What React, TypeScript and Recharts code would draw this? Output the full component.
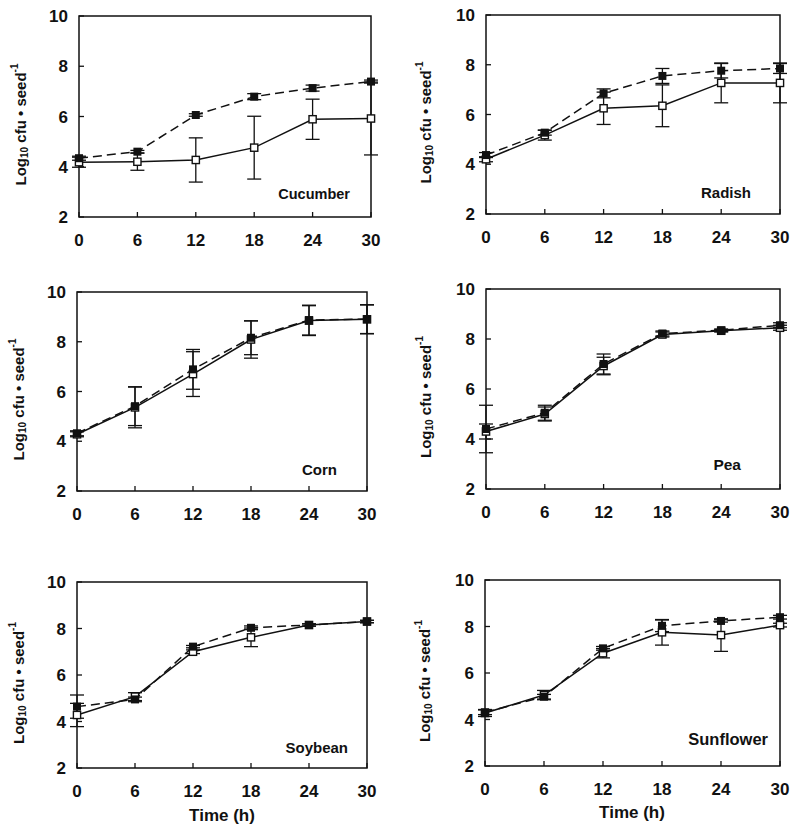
import React from "react";
import { LineChart, Line, XAxis, YAxis, ErrorBar, ReferenceArea } from "recharts";

const TIMES = [0, 6, 12, 18, 24, 30];
const X_TICKS = [0, 6, 12, 18, 24, 30];
const Y_TICKS = [2, 4, 6, 8, 10];

// filled squares = dashed line, open squares = solid line
const CUCUMBER_FILLED = [4.34, 4.6, 6.06, 6.79, 7.13, 7.39];
const CUCUMBER_FILLED_ERR = [0.08, 0.05, 0.05, 0.12, 0.12, 0.06];
const CUCUMBER_OPEN = [4.18, 4.2, 4.27, 4.76, 5.89, 5.92];
const CUCUMBER_OPEN_ERR = [0.2, 0.34, 0.88, 1.25, 0.8, 1.45];

const RADISH_FILLED = [4.37, 5.27, 6.85, 7.55, 7.76, 7.85];
const RADISH_FILLED_ERR = [0.1, 0.1, 0.18, 0.3, 0.29, 0.2];
const RADISH_OPEN = [4.2, 5.17, 6.25, 6.35, 7.27, 7.27];
const RADISH_OPEN_ERR = [0.1, 0.2, 0.65, 0.84, 0.8, 0.8];

const CORN_FILLED = [4.32, 5.41, 6.89, 8.16, 8.87, 8.91];
const CORN_FILLED_ERR = [0.1, 0.78, 0.8, 0.68, 0.6, 0.58];
const CORN_OPEN = [4.28, 5.36, 6.7, 8.09, 8.85, 8.9];
const CORN_OPEN_ERR = [0.1, 0.82, 0.9, 0.75, 0.6, 0.58];

const PEA_FILLED = [4.4, 5.05, 7.0, 8.22, 8.35, 8.55];
const PEA_FILLED_ERR = [0.95, 0.3, 0.4, 0.1, 0.05, 0.1];
const PEA_OPEN = [4.3, 5.0, 6.92, 8.18, 8.33, 8.45];
const PEA_OPEN_ERR = [0.3, 0.28, 0.35, 0.1, 0.05, 0.1];

const SOYBEAN_FILLED = [4.64, 4.95, 7.22, 8.03, 8.15, 8.3];
const SOYBEAN_FILLED_ERR = [0.5, 0.1, 0.05, 0.08, 0.05, 0.05];
const SOYBEAN_OPEN = [4.28, 5.07, 7.0, 7.62, 8.15, 8.3];
const SOYBEAN_OPEN_ERR = [0.5, 0.17, 0.08, 0.4, 0.05, 0.05];

const SUNFLOWER_FILLED = [4.31, 4.98, 7.06, 8.03, 8.24, 8.4];
const SUNFLOWER_FILLED_ERR = [0.1, 0.1, 0.08, 0.25, 0.05, 0.08];
const SUNFLOWER_OPEN = [4.28, 5.05, 6.85, 7.75, 7.63, 8.06];
const SUNFLOWER_OPEN_ERR = [0.15, 0.2, 0.2, 0.55, 0.7, 0.08];

const FONT = "'Liberation Sans', Arial, Helvetica, sans-serif";
const INK = "#111";

interface Panel {
  name: string;
  filled: number[];
  filledErr: number[];
  open: number[];
  openErr: number[];
  left: number;
  top: number;
  width: number;
  height: number;
  titleX: number;
  titleY: number;
  titleSize: number;
  yLabelX: number;
  timeLabel?: { x: number; y: number };
}

const PANELS: Panel[] = [
  {
    name: "Cucumber",
    filled: CUCUMBER_FILLED,
    filledErr: CUCUMBER_FILLED_ERR,
    open: CUCUMBER_OPEN,
    openErr: CUCUMBER_OPEN_ERR,
    left: 79, top: 16, width: 292, height: 201,
    titleX: 350, titleY: 199, titleSize: 14.5, yLabelX: 20,
  },
  {
    name: "Radish",
    filled: RADISH_FILLED,
    filledErr: RADISH_FILLED_ERR,
    open: RADISH_OPEN,
    openErr: RADISH_OPEN_ERR,
    left: 486, top: 15, width: 294, height: 199,
    titleX: 751, titleY: 198, titleSize: 15, yLabelX: 425,
  },
  {
    name: "Corn",
    filled: CORN_FILLED,
    filledErr: CORN_FILLED_ERR,
    open: CORN_OPEN,
    openErr: CORN_OPEN_ERR,
    left: 77, top: 292, width: 290, height: 199,
    titleX: 337, titleY: 475, titleSize: 15, yLabelX: 18,
  },
  {
    name: "Pea",
    filled: PEA_FILLED,
    filledErr: PEA_FILLED_ERR,
    open: PEA_OPEN,
    openErr: PEA_OPEN_ERR,
    left: 486, top: 289, width: 294, height: 200,
    titleX: 741, titleY: 470, titleSize: 15.5, yLabelX: 425,
  },
  {
    name: "Soybean",
    filled: SOYBEAN_FILLED,
    filledErr: SOYBEAN_FILLED_ERR,
    open: SOYBEAN_OPEN,
    openErr: SOYBEAN_OPEN_ERR,
    left: 77, top: 582, width: 290, height: 186,
    titleX: 348, titleY: 753, titleSize: 15, yLabelX: 18,
    timeLabel: { x: 222, y: 821 },
  },
  {
    name: "Sunflower",
    filled: SUNFLOWER_FILLED,
    filledErr: SUNFLOWER_FILLED_ERR,
    open: SUNFLOWER_OPEN,
    openErr: SUNFLOWER_OPEN_ERR,
    left: 485, top: 580, width: 295, height: 186,
    titleX: 768, titleY: 745, titleSize: 16.5, yLabelX: 424,
    timeLabel: { x: 632, y: 818 },
  },
];

const Y_AXIS_W = 60;
const MARGIN_TOP = 10;
const MARGIN_RIGHT = 15;
const X_AXIS_H = 40;

function FilledSquare(props: any) {
  const { cx, cy, index } = props;
  if (cx == null || cy == null) return null;
  return <rect key={`f-${index}`} x={cx - 4} y={cy - 4} width={8} height={8} fill={INK} />;
}

function OpenSquare(props: any) {
  const { cx, cy, index } = props;
  if (cx == null || cy == null) return null;
  return (
    <rect
      key={`o-${index}`}
      x={cx - 3.6}
      y={cy - 3.6}
      width={7.2}
      height={7.2}
      fill="#fff"
      stroke={INK}
      strokeWidth={1.4}
    />
  );
}

const tickStyle = { fill: INK, fontSize: 17, fontWeight: "bold", fontFamily: FONT };

function PanelChart({ panel }: { panel: Panel }) {
  const data = TIMES.map((t, i) => ({
    t,
    filled: panel.filled[i],
    filledErr: panel.filledErr[i],
    open: panel.open[i],
    openErr: panel.openErr[i],
  }));

  return (
    <div
      style={{
        position: "absolute",
        left: panel.left - Y_AXIS_W,
        top: panel.top - MARGIN_TOP,
      }}
    >
      <LineChart
        width={Y_AXIS_W + panel.width + MARGIN_RIGHT}
        height={MARGIN_TOP + panel.height + X_AXIS_H}
        data={data}
        margin={{ top: MARGIN_TOP, right: MARGIN_RIGHT, bottom: 0, left: 0 }}
      >
        <ReferenceArea
          x1={0}
          x2={30}
          y1={2}
          y2={10}
          fill="none"
          stroke={INK}
          strokeWidth={1.5}
          ifOverflow="visible"
        />
        <XAxis
          type="number"
          dataKey="t"
          domain={[0, 30]}
          ticks={X_TICKS}
          interval={0}
          height={X_AXIS_H}
          axisLine={false}
          tickSize={-5}
          tickMargin={22}
          tickLine={{ stroke: INK, strokeWidth: 1.3 }}
          tick={tickStyle}
        />
        <YAxis
          type="number"
          domain={[2, 10]}
          ticks={Y_TICKS}
          interval={0}
          width={Y_AXIS_W}
          axisLine={false}
          tickSize={-5}
          tickMargin={16}
          tickLine={{ stroke: INK, strokeWidth: 1.3 }}
          tick={tickStyle}
        />
        <Line
          type="linear"
          dataKey="open"
          stroke={INK}
          strokeWidth={1.5}
          dot={false}
          activeDot={false}
          isAnimationActive={false}
        >
          <ErrorBar dataKey="openErr" direction="y" width={7} stroke={INK} strokeWidth={1.3} />
        </Line>
        <Line
          type="linear"
          dataKey="filled"
          stroke={INK}
          strokeWidth={1.5}
          strokeDasharray="9 5"
          dot={false}
          activeDot={false}
          isAnimationActive={false}
        >
          <ErrorBar dataKey="filledErr" direction="y" width={7} stroke={INK} strokeWidth={1.3} />
        </Line>
        {/* markers drawn last so they sit on top of the error bars */}
        <Line
          type="linear"
          dataKey="open"
          stroke="none"
          dot={OpenSquare}
          activeDot={false}
          legendType="none"
          isAnimationActive={false}
        />
        <Line
          type="linear"
          dataKey="filled"
          stroke="none"
          dot={FilledSquare}
          activeDot={false}
          legendType="none"
          isAnimationActive={false}
        />
      </LineChart>
    </div>
  );
}

function YLabel({ x, y }: { x: number; y: number }) {
  return (
    <text
      transform={`translate(${x},${y}) rotate(-90)`}
      textAnchor="middle"
      dominantBaseline="central"
      fontFamily={FONT}
      fontWeight="bold"
      fontSize={15}
      fill={INK}
    >
      Log
      <tspan fontSize={10} dy={4}>10</tspan>
      <tspan dy={-4}> cfu • seed</tspan>
      <tspan fontSize={10} dy={-6}>-1</tspan>
    </text>
  );
}

export default function App() {
  return (
    <div
      style={{
        position: "absolute",
        left: 0,
        top: 0,
        width: 800,
        height: 829,
        background: "#fff",
        overflow: "hidden",
      }}
    >
      {PANELS.map((p) => (
        <PanelChart key={p.name} panel={p} />
      ))}
      <svg
        width={800}
        height={829}
        style={{ position: "absolute", left: 0, top: 0, pointerEvents: "none" }}
      >
        {PANELS.map((p) => (
          <g key={p.name}>
            <text
              x={p.titleX}
              y={p.titleY}
              textAnchor="end"
              fontFamily={FONT}
              fontWeight="bold"
              fontSize={p.titleSize}
              fill={INK}
            >
              {p.name}
            </text>
            <YLabel x={p.yLabelX} y={p.top + p.height / 2 + 8} />
            {p.timeLabel && (
              <text
                x={p.timeLabel.x}
                y={p.timeLabel.y}
                textAnchor="middle"
                fontFamily={FONT}
                fontWeight="bold"
                fontSize={17}
                fill={INK}
              >
                Time (h)
              </text>
            )}
          </g>
        ))}
      </svg>
    </div>
  );
}
